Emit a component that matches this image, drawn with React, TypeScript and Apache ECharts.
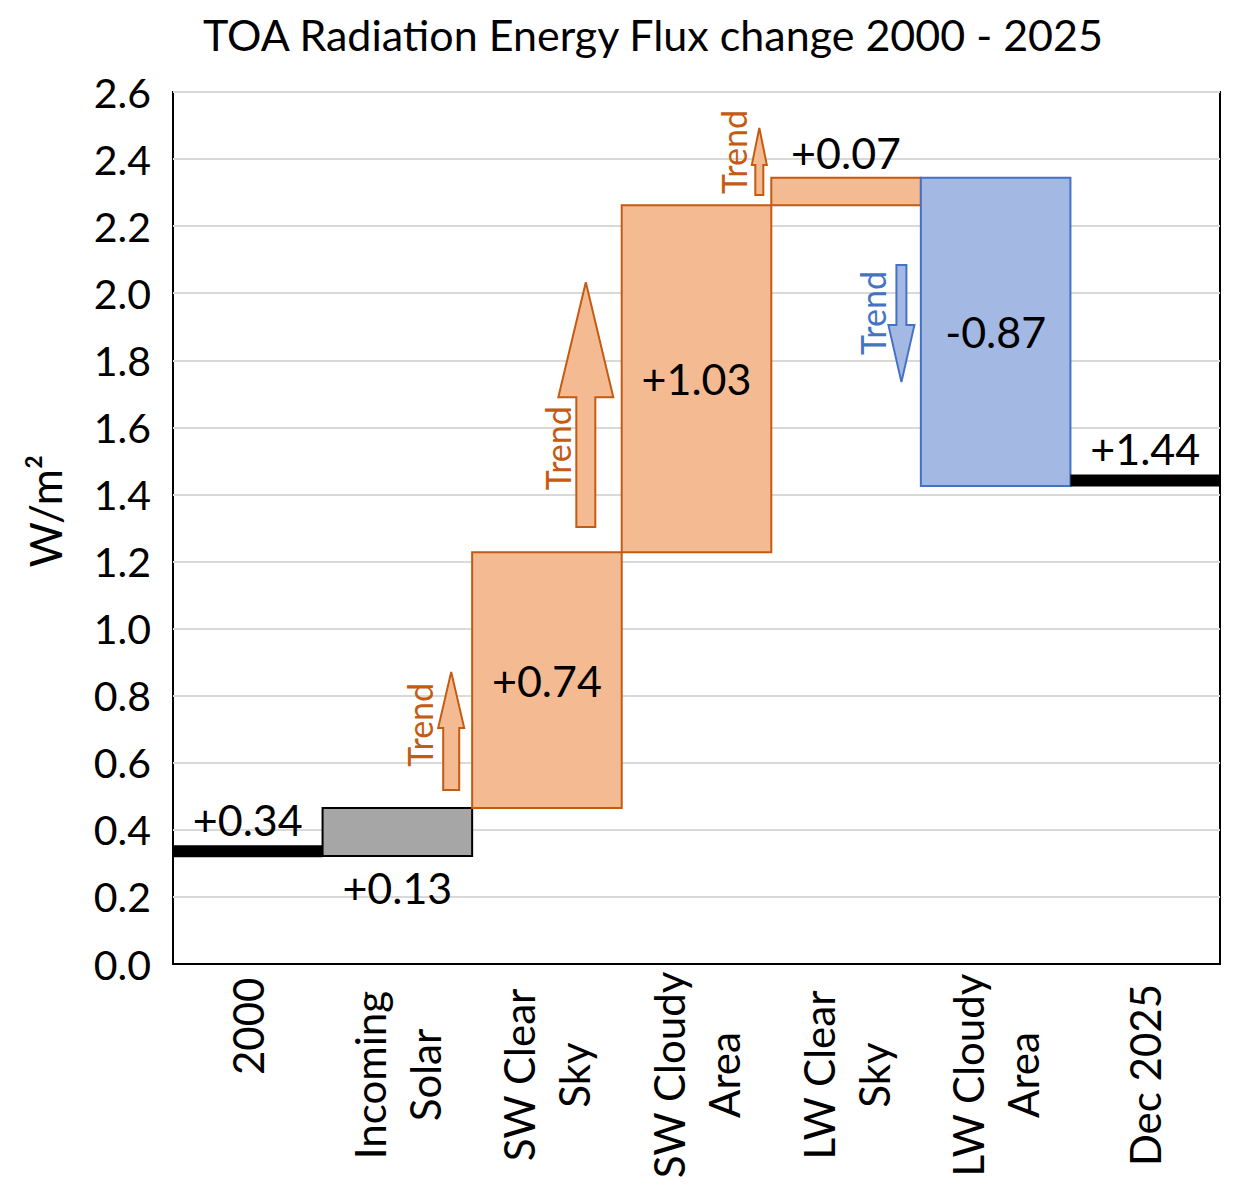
import React, { useEffect, useRef } from 'react';
import * as echarts from 'echarts';

// ---------- data ----------
const categories = ['2000', 'Incoming\nSolar', 'SW Clear\nSky', 'SW Cloudy\nArea', 'LW Clear\nSky', 'LW Cloudy\nArea', 'Dec 2025'];
const yTicks = [0, 0.2, 0.4, 0.6, 0.8, 1.0, 1.2, 1.4, 1.6, 1.8, 2.0, 2.2, 2.4, 2.6];

// floating step bars (W/m2)
const stepIndex = [1, 2, 3, 4, 5];
const stepLow = [0.322, 0.465, 1.228, 2.262, 1.425];
const stepHigh = [0.465, 1.228, 2.262, 2.344, 2.344];
const stepKind = ['solar', 'up', 'up', 'up', 'down'];

// total markers (W/m2)
const totalIndex = [0, 6];
const totalValue = [0.336, 1.442];

// value labels
const valueLabels = ['+0.34', '+0.13', '+0.74', '+1.03', '+0.07', '-0.87', '+1.44'];
const labelPlace = ['top', 'bottom', 'inside', 'inside', 'top', 'inside', 'top'];

// trend arrows (W/m2 start -> end)
const trendIndex = [1, 2, 3, 4];
const trendFrom = [0.519, 1.303, 2.293, 2.084];
const trendTo = [0.871, 2.033, 2.493, 1.735];
const trendTextValue = [0.713, 1.538, 2.421, 1.941];

// ---------- styling ----------
const FONT = 'Lato, "Open Sans", sans-serif';
const ORANGE_FILL = '#F4BA92';
const ORANGE_LINE = '#C55A11';
const BLUE_FILL = '#A3B8E2';
const BLUE_LINE = '#4472C4';
const GREY_FILL = '#A6A6A6';

const arrowOffset = [0.36, 0.26, 0.42, 0.37];
const arrowShaft = [16, 19, 8, 10];
const arrowHead = [26, 55, 15, 26];
const arrowHeadLen = [56, 115, 37, 57];
const trendTextOffset = [0.15, 0.07, 0.25, 0.18];

const LABEL_SIZE = 43;

function labelFor(i: number, x: number, top: number, bottom: number) {
  const place = labelPlace[i];
  let y = (top + bottom) / 2;
  let va = 'middle';
  if (place === 'top') {
    y = top - 4;
    va = 'bottom';
  } else if (place === 'bottom') {
    y = bottom + 10;
    va = 'top';
  }
  return {
    type: 'text',
    silent: true,
    style: {
      text: valueLabels[i],
      x,
      y,
      align: 'center',
      verticalAlign: va,
      fontSize: LABEL_SIZE,
      fontFamily: FONT,
      fill: '#000',
    },
  };
}

export default function App() {
  const ref = useRef<HTMLDivElement>(null);

  useEffect(() => {
    const chart = echarts.init(ref.current!, null, { renderer: 'svg' });

    const stepData = stepIndex.map((c, k) => [c, stepLow[k], stepHigh[k]]);
    const totalData = totalIndex.map((c, k) => [c, totalValue[k]]);
    const trendData = trendIndex.map((c, k) => [c, trendFrom[k], trendTo[k]]);
    const categoryItems = categories.map((c) =>
      c.indexOf('\n') < 0 && c.length < 5 ? { value: c, textStyle: { align: 'left' } } : c
    );

    const option: any = {
      animation: false,
      backgroundColor: '#fff',
      textStyle: { fontFamily: FONT },
      graphic: [
        {
          type: 'text',
          style: {
            text: 'TOA Radiation Energy Flux change 2000 - 2025',
            x: 653,
            y: 34,
            align: 'center',
            verticalAlign: 'middle',
            fontSize: 43,
            fontFamily: FONT,
            fill: '#000',
          },
        },
      ],
      grid: {
        left: 173,
        right: 22,
        top: 92,
        bottom: 236,
        containLabel: false,
        outerBoundsMode: 'none',
        show: true,
        borderColor: '#000',
        borderWidth: 2,
        backgroundColor: 'transparent',
      },
      xAxis: {
        type: 'category',
        data: categoryItems,
        axisLine: { show: true, lineStyle: { color: '#000', width: 2 } },
        axisTick: { show: false },
        splitLine: { show: false },
        axisLabel: {
          interval: 0,
          rotate: 90,
          align: 'center',
          verticalAlign: 'middle',
          margin: 111,
          fontSize: 42,
          lineHeight: 55,
          color: '#000',
          fontFamily: FONT,
        },
      },
      yAxis: {
        type: 'value',
        min: yTicks[0],
        max: yTicks[yTicks.length - 1],
        interval: 0.2,
        name: 'W/m²',
        nameLocation: 'middle',
        nameGap: 106,
        nameTextStyle: { fontSize: 44, color: '#000', fontFamily: FONT, padding: [0, 0, 0, 34] },
        axisLine: { show: false },
        axisTick: { show: false },
        axisLabel: {
          fontSize: 41,
          color: '#000',
          margin: 22,
          fontFamily: FONT,
          formatter: (v: number) => v.toFixed(1),
        },
        splitLine: { show: true, lineStyle: { color: '#D9D9D9', width: 2 } },
      },
      series: [
        {
          type: 'custom',
          name: 'steps',
          data: stepData,
          encode: { x: 0, y: [1, 2] },
          renderItem: (params: any, api: any) => {
            const k = params.dataIndex;
            const c = api.value(0);
            const pLo = api.coord([c, api.value(1)]);
            const pHi = api.coord([c, api.value(2)]);
            const w = api.size([1, 0])[0];
            const top = Math.min(pLo[1], pHi[1]);
            const bottom = Math.max(pLo[1], pHi[1]);
            const kind = stepKind[k];
            const fill = kind === 'solar' ? GREY_FILL : kind === 'down' ? BLUE_FILL : ORANGE_FILL;
            const stroke = kind === 'solar' ? '#000' : kind === 'down' ? BLUE_LINE : ORANGE_LINE;
            return {
              type: 'group',
              children: [
                {
                  type: 'rect',
                  shape: { x: pLo[0] - w / 2, y: top, width: w, height: bottom - top },
                  style: { fill, stroke, lineWidth: 2 },
                },
                labelFor(c, pLo[0], top, bottom),
              ],
            };
          },
          z: 3,
        },
        {
          type: 'custom',
          name: 'totals',
          data: totalData,
          encode: { x: 0, y: 1 },
          renderItem: (params: any, api: any) => {
            const c = api.value(0);
            const p = api.coord([c, api.value(1)]);
            const w = api.size([1, 0])[0];
            const h = 12;
            return {
              type: 'group',
              children: [
                {
                  type: 'rect',
                  shape: { x: p[0] - w / 2, y: p[1] - h / 2, width: w, height: h },
                  style: { fill: '#000' },
                },
                labelFor(c, p[0], p[1] - h / 2, p[1] + h / 2),
              ],
            };
          },
          z: 4,
        },
        {
          type: 'custom',
          name: 'trends',
          data: trendData,
          encode: { x: 0, y: [1, 2] },
          renderItem: (params: any, api: any) => {
            const k = params.dataIndex;
            const c = api.value(0);
            const from = api.value(1);
            const to = api.value(2);
            const w = api.size([1, 0])[0];
            const p0 = api.coord([c, from]);
            const p1 = api.coord([c, to]);
            const cx = p0[0] + arrowOffset[k] * w;
            const yStart = p0[1];
            const yTip = p1[1];
            const dir = yTip < yStart ? 1 : -1; // 1: pointing up
            const yBase = yTip + dir * arrowHeadLen[k];
            const sw = arrowShaft[k] / 2;
            const hw = arrowHead[k] / 2;
            const down = to < from;
            const fill = down ? BLUE_FILL : ORANGE_FILL;
            const stroke = down ? BLUE_LINE : ORANGE_LINE;
            const tp = api.coord([c, trendTextValue[k]]);
            return {
              type: 'group',
              children: [
                {
                  type: 'polygon',
                  shape: {
                    points: [
                      [cx, yTip],
                      [cx + hw, yBase],
                      [cx + sw, yBase],
                      [cx + sw, yStart],
                      [cx - sw, yStart],
                      [cx - sw, yBase],
                      [cx - hw, yBase],
                    ],
                  },
                  style: { fill, stroke, lineWidth: 2 },
                },
                {
                  type: 'text',
                  x: p0[0] + trendTextOffset[k] * w,
                  y: tp[1],
                  rotation: Math.PI / 2,
                  style: {
                    text: 'Trend',
                    align: 'center',
                    verticalAlign: 'middle',
                    fontSize: 34,
                    fontFamily: FONT,
                    fill: stroke,
                  },
                },
              ],
            };
          },
          z: 5,
        },
      ],
    };

    chart.setOption(option);
    return () => chart.dispose();
  }, []);

  return (
    <div
      ref={ref}
      style={{ position: 'absolute', left: 0, top: 0, width: 1242, height: 1200, background: '#fff' }}
    />
  );
}
